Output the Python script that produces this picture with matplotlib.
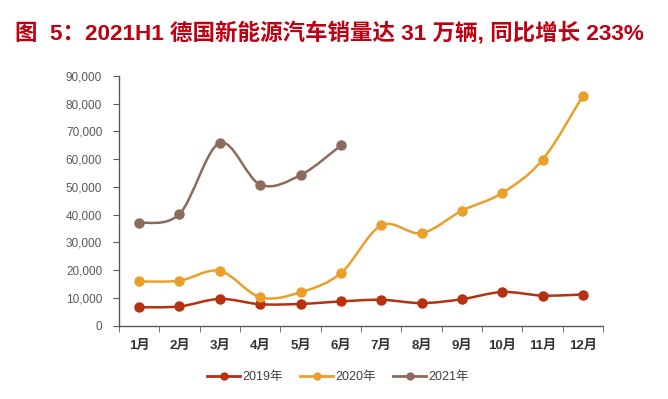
import numpy as np
import matplotlib
matplotlib.use('Agg')
from matplotlib import pyplot as plt
from matplotlib.path import Path
from matplotlib.patches import PathPatch
from matplotlib.lines import Line2D

plt.rcParams['font.family'] = ['Liberation Sans', 'Noto Sans CJK SC', 'DejaVu Sans']

months = ['1月', '2月', '3月', '4月', '5月', '6月', '7月', '8月', '9月', '10月', '11月', '12月']
sales_2019 = [6600, 6900, 9600, 7700, 7800, 8700, 9300, 8100, 9500, 12100, 10800, 11200]
sales_2020 = [15900, 16200, 19700, 10200, 12000, 18900, 36100, 33300, 41400, 47800, 59800, 82900]
sales_2021 = [37000, 40200, 65800, 50800, 54200, 64900]
yticks = [0, 10000, 20000, 30000, 40000, 50000, 60000, 70000, 80000, 90000]
title = '图  5：2021H1 德国新能源汽车销量达 31 万辆, 同比增长 233%'

c19 = '#B5310F'
c20 = '#E9A02B'
c21 = '#8C6A5C'


def smooth_path(xs, ys, t=1/6):
    # Excel-like smoothed line: Catmull-Rom -> cubic bezier segments
    xs = np.asarray(xs, float)
    ys = np.asarray(ys, float)
    n = len(xs)
    verts = [(xs[0], ys[0])]
    codes = [Path.MOVETO]
    for i in range(n - 1):
        p0 = i - 1 if i > 0 else i
        p3 = i + 2 if i + 2 < n else i + 1
        c1 = (xs[i] + (xs[i + 1] - xs[p0]) * t, ys[i] + (ys[i + 1] - ys[p0]) * t)
        c2 = (xs[i + 1] - (xs[p3] - xs[i]) * t, ys[i + 1] - (ys[p3] - ys[i]) * t)
        verts += [c1, c2, (xs[i + 1], ys[i + 1])]
        codes += [Path.CURVE4] * 3
    return Path(verts, codes)


fig = plt.figure(figsize=(6.68, 3.99), dpi=100)
ax = fig.add_axes([0.178, 0.184, 0.725, 0.626])

for vals, col in [(sales_2019, c19), (sales_2020, c20), (sales_2021, c21)]:
    x = np.arange(1, len(vals) + 1)
    ax.add_patch(PathPatch(smooth_path(x, vals), facecolor='none', edgecolor=col, lw=1.8, zorder=2))
    ax.plot(x, vals, 'o', color=col, ms=6.5, zorder=3)

ax.set_xlim(0.5, 12.5)
ax.set_ylim(0, 90000)
ax.set_yticks(yticks)
ax.set_yticklabels([f'{v:,}' for v in yticks])
ax.set_xticks(np.arange(1, 13))
ax.set_xticklabels(months, fontweight='bold')
ax.set_xticks(np.arange(0.5, 13), minor=True)
ax.tick_params(axis='x', which='major', length=0, pad=10, labelsize=9.5, labelcolor='#333333')
ax.tick_params(axis='x', which='minor', length=4, direction='out', color='#595959')
ax.tick_params(axis='y', length=4, direction='out', color='#595959', pad=8,
               labelsize=8.5, labelcolor='#595959')
for s in ['top', 'right']:
    ax.spines[s].set_visible(False)
for s in ['left', 'bottom']:
    ax.spines[s].set_color('#595959')
    ax.spines[s].set_linewidth(1)

handles = [Line2D([], [], color=c, lw=2, marker='o', ms=5) for c in (c19, c20, c21)]
fig.legend(handles, ['2019年', '2020年', '2021年'], loc='center', bbox_to_anchor=(0.506, 0.055),
           ncol=3, frameon=False, fontsize=9, handlelength=2.6, columnspacing=1.4,
           handletextpad=0.2, labelcolor='#404040')

fig.text(0.493, 0.917, title, ha='center', va='center', fontsize=16.2, fontweight='bold',
         color='#C00012')

plt.savefig('out.png', dpi=100)
